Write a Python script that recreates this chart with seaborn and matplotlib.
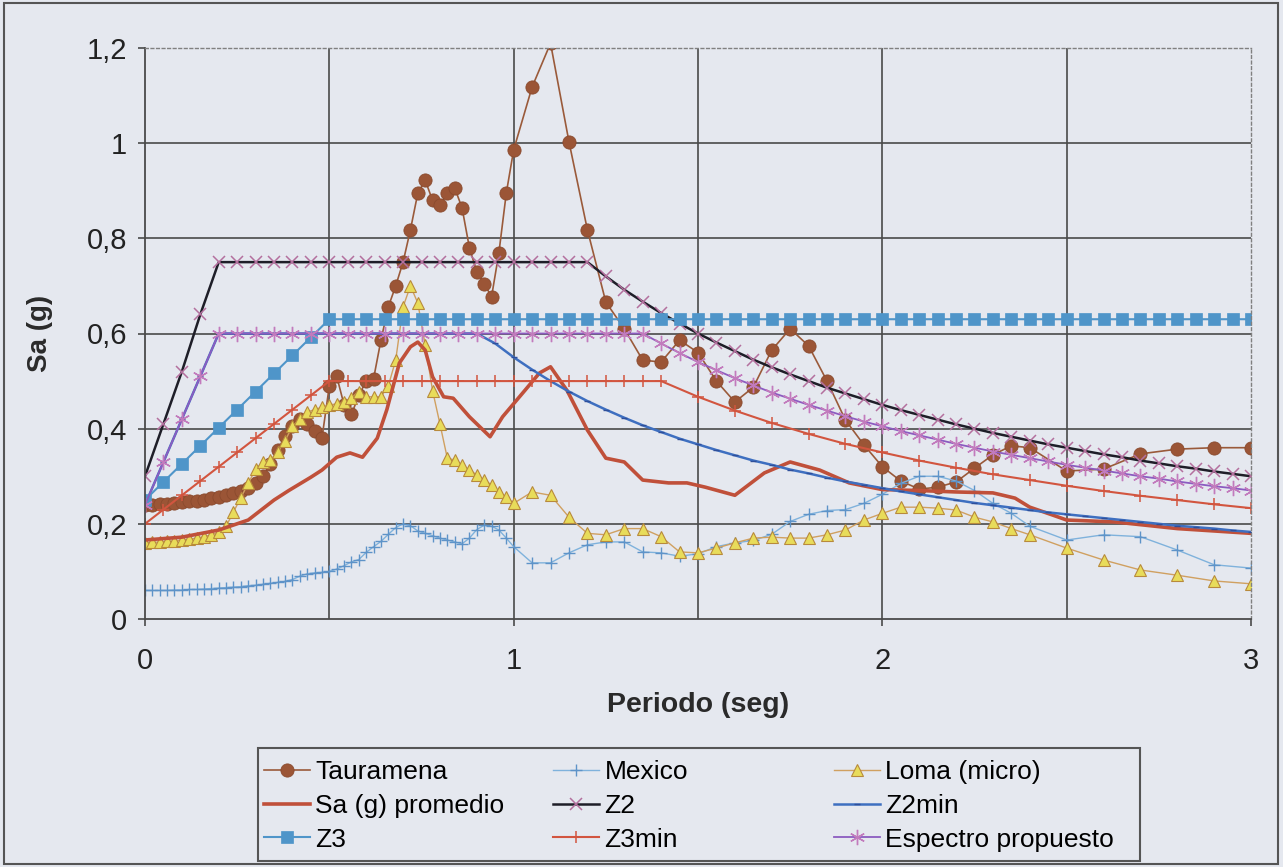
import numpy as np
import pandas as pd
import matplotlib
matplotlib.use('Agg')
import matplotlib.pyplot as plt
import seaborn as sns
from matplotlib.patches import Rectangle

# periods (s) of the three records
periodo_reg = [0.00, 0.02, 0.04, 0.06, 0.08, 0.10, 0.12, 0.14, 0.16, 0.18,
               0.20, 0.22, 0.24, 0.26, 0.28, 0.30, 0.32, 0.34, 0.36, 0.38,
               0.40, 0.42, 0.44, 0.46, 0.48, 0.50, 0.52, 0.54, 0.56, 0.58,
               0.60, 0.62, 0.64, 0.66, 0.68, 0.70, 0.72, 0.74, 0.76, 0.78,
               0.80, 0.82, 0.84, 0.86, 0.88, 0.90, 0.92, 0.94, 0.96, 0.98,
               1.00, 1.05, 1.10, 1.15, 1.20, 1.25, 1.30, 1.35, 1.40, 1.45,
               1.50, 1.55, 1.60, 1.65, 1.70, 1.75, 1.80, 1.85, 1.90, 1.95,
               2.00, 2.05, 2.10, 2.15, 2.20, 2.25, 2.30, 2.35, 2.40, 2.50,
               2.60, 2.70, 2.80, 2.90, 3.00]

tauramena = [0.240, 0.240, 0.241, 0.242, 0.243, 0.245, 0.247, 0.249, 0.251, 0.254,
             0.256, 0.260, 0.264, 0.268, 0.275, 0.285, 0.300, 0.325, 0.355, 0.385,
             0.405, 0.420, 0.410, 0.395, 0.380, 0.490, 0.510, 0.450, 0.430, 0.470,
             0.500, 0.505, 0.586, 0.656, 0.700, 0.750, 0.818, 0.895, 0.922, 0.880,
             0.870, 0.895, 0.906, 0.864, 0.780, 0.730, 0.705, 0.677, 0.770, 0.895,
             0.986, 1.118, 1.210, 1.003, 0.818, 0.666, 0.610, 0.544, 0.540, 0.586,
             0.560, 0.500, 0.456, 0.487, 0.565, 0.610, 0.574, 0.500, 0.418, 0.366,
             0.320, 0.290, 0.273, 0.277, 0.288, 0.317, 0.345, 0.364, 0.360, 0.311,
             0.315, 0.347, 0.357, 0.360, 0.360]

mexico = [0.060, 0.060, 0.060, 0.060, 0.061, 0.061, 0.062, 0.062, 0.063, 0.064,
          0.065, 0.066, 0.067, 0.068, 0.070, 0.071, 0.073, 0.075, 0.077, 0.079,
          0.083, 0.090, 0.095, 0.097, 0.098, 0.100, 0.105, 0.112, 0.120, 0.125,
          0.140, 0.152, 0.163, 0.178, 0.192, 0.200, 0.196, 0.185, 0.180, 0.175,
          0.170, 0.166, 0.162, 0.158, 0.170, 0.188, 0.197, 0.195, 0.187, 0.170,
          0.152, 0.118, 0.118, 0.139, 0.156, 0.162, 0.162, 0.141, 0.139, 0.132,
          0.137, 0.152, 0.160, 0.165, 0.178, 0.205, 0.220, 0.228, 0.230, 0.243,
          0.262, 0.285, 0.300, 0.300, 0.290, 0.270, 0.243, 0.222, 0.195, 0.166,
          0.177, 0.173, 0.145, 0.114, 0.107]

loma = [0.160, 0.161, 0.162, 0.163, 0.164, 0.166, 0.168, 0.170, 0.173, 0.177,
        0.183, 0.195, 0.225, 0.255, 0.285, 0.315, 0.330, 0.335, 0.350, 0.375,
        0.405, 0.420, 0.435, 0.440, 0.445, 0.450, 0.452, 0.455, 0.465, 0.478,
        0.467, 0.467, 0.467, 0.490, 0.544, 0.656, 0.700, 0.664, 0.576, 0.480,
        0.410, 0.338, 0.334, 0.324, 0.313, 0.303, 0.292, 0.282, 0.267, 0.256,
        0.243, 0.267, 0.260, 0.214, 0.180, 0.177, 0.190, 0.190, 0.173, 0.141,
        0.139, 0.149, 0.160, 0.170, 0.172, 0.170, 0.170, 0.177, 0.187, 0.208,
        0.222, 0.235, 0.235, 0.233, 0.229, 0.214, 0.204, 0.190, 0.177, 0.149,
        0.124, 0.103, 0.092, 0.080, 0.074]

# average spectrum
periodo_prom = [0.00, 0.10, 0.20, 0.28, 0.35, 0.39, 0.45, 0.48, 0.52, 0.556,
                0.59, 0.63, 0.656, 0.69, 0.72, 0.74, 0.76, 0.78, 0.81, 0.836,
                0.88, 0.936, 0.97, 1.03, 1.07, 1.10, 1.145, 1.20, 1.25, 1.30,
                1.35, 1.42, 1.47, 1.52, 1.60, 1.68, 1.75, 1.83, 1.91, 2.00,
                2.10, 2.20, 2.30, 2.36, 2.40, 2.46, 2.50, 2.63, 2.80, 3.00]
sa_promedio = [0.166, 0.172, 0.187, 0.208, 0.250, 0.270, 0.298, 0.313, 0.340, 0.349,
               0.340, 0.380, 0.440, 0.538, 0.572, 0.582, 0.565, 0.509, 0.467, 0.464,
               0.425, 0.383, 0.425, 0.480, 0.517, 0.530, 0.480, 0.397, 0.338, 0.330,
               0.292, 0.286, 0.286, 0.277, 0.260, 0.307, 0.330, 0.313, 0.286, 0.272,
               0.270, 0.267, 0.265, 0.254, 0.235, 0.219, 0.208, 0.204, 0.190, 0.180]

# design spectra, every 0.05 s
periodo_z = [0.00, 0.05, 0.10, 0.15, 0.20, 0.25, 0.30, 0.35, 0.40, 0.45,
             0.50, 0.55, 0.60, 0.65, 0.70, 0.75, 0.80, 0.85, 0.90, 0.95,
             1.00, 1.05, 1.10, 1.15, 1.20, 1.25, 1.30, 1.35, 1.40, 1.45,
             1.50, 1.55, 1.60, 1.65, 1.70, 1.75, 1.80, 1.85, 1.90, 1.95,
             2.00, 2.05, 2.10, 2.15, 2.20, 2.25, 2.30, 2.35, 2.40, 2.45,
             2.50, 2.55, 2.60, 2.65, 2.70, 2.75, 2.80, 2.85, 2.90, 2.95,
             3.00]

z2 = [0.30, 0.41, 0.52, 0.64, 0.75, 0.75, 0.75, 0.75, 0.75, 0.75,
      0.75, 0.75, 0.75, 0.75, 0.75, 0.75, 0.75, 0.75, 0.75, 0.75,
      0.75, 0.75, 0.75, 0.75, 0.75, 0.720, 0.692, 0.667, 0.643, 0.621,
      0.600, 0.581, 0.563, 0.545, 0.529, 0.514, 0.500, 0.486, 0.474, 0.462,
      0.450, 0.439, 0.429, 0.419, 0.409, 0.400, 0.391, 0.383, 0.375, 0.367,
      0.360, 0.353, 0.346, 0.340, 0.333, 0.327, 0.321, 0.316, 0.310, 0.305,
      0.300]

z2min = [0.24, 0.33, 0.42, 0.51, 0.60, 0.60, 0.60, 0.60, 0.60, 0.60,
         0.60, 0.60, 0.60, 0.60, 0.60, 0.60, 0.60, 0.60, 0.60, 0.579,
         0.550, 0.524, 0.500, 0.478, 0.458, 0.440, 0.423, 0.407, 0.393, 0.379,
         0.367, 0.355, 0.344, 0.333, 0.324, 0.314, 0.306, 0.297, 0.289, 0.282,
         0.275, 0.268, 0.262, 0.256, 0.250, 0.244, 0.239, 0.234, 0.229, 0.224,
         0.220, 0.216, 0.212, 0.208, 0.204, 0.200, 0.196, 0.193, 0.190, 0.186,
         0.183]

z3 = [0.250, 0.288, 0.326, 0.364, 0.402, 0.440, 0.478, 0.516, 0.554, 0.592,
      0.63, 0.63, 0.63, 0.63, 0.63, 0.63, 0.63, 0.63, 0.63, 0.63,
      0.63, 0.63, 0.63, 0.63, 0.63, 0.63, 0.63, 0.63, 0.63, 0.63,
      0.63, 0.63, 0.63, 0.63, 0.63, 0.63, 0.63, 0.63, 0.63, 0.63,
      0.63, 0.63, 0.63, 0.63, 0.63, 0.63, 0.63, 0.63, 0.63, 0.63,
      0.63, 0.63, 0.63, 0.63, 0.63, 0.63, 0.63, 0.63, 0.63, 0.63,
      0.63]

espectro = [0.24, 0.33, 0.42, 0.51, 0.60, 0.60, 0.60, 0.60, 0.60, 0.60,
            0.60, 0.60, 0.60, 0.60, 0.60, 0.60, 0.60, 0.60, 0.60, 0.60,
            0.60, 0.60, 0.60, 0.60, 0.60, 0.60, 0.60, 0.60, 0.579, 0.559,
            0.540, 0.523, 0.506, 0.491, 0.476, 0.463, 0.450, 0.438, 0.426, 0.415,
            0.405, 0.395, 0.386, 0.377, 0.368, 0.360, 0.352, 0.345, 0.338, 0.331,
            0.324, 0.318, 0.312, 0.306, 0.300, 0.295, 0.289, 0.284, 0.279, 0.275,
            0.270]

periodo_z3min = [0.00, 0.05, 0.10, 0.15, 0.20, 0.25, 0.30, 0.35, 0.40, 0.45,
                 0.50, 0.55, 0.60, 0.65, 0.70, 0.75, 0.80, 0.85, 0.90, 0.95,
                 1.00, 1.05, 1.10, 1.15, 1.20, 1.25, 1.30, 1.35, 1.40, 1.50,
                 1.60, 1.70, 1.80, 1.90, 2.00, 2.10, 2.20, 2.30, 2.40, 2.50,
                 2.60, 2.70, 2.80, 2.90, 3.00]
z3min = [0.20, 0.23, 0.26, 0.29, 0.32, 0.35, 0.38, 0.41, 0.44, 0.47,
         0.50, 0.50, 0.50, 0.50, 0.50, 0.50, 0.50, 0.50, 0.50, 0.50,
         0.50, 0.50, 0.50, 0.50, 0.50, 0.50, 0.50, 0.50, 0.50, 0.467,
         0.438, 0.412, 0.389, 0.368, 0.350, 0.333, 0.318, 0.304, 0.292, 0.280,
         0.269, 0.259, 0.250, 0.241, 0.233]

bg = '#e5e8ef'
grid_col = '#4a4a4a'

plt.rcParams['font.family'] = ['Liberation Sans', 'DejaVu Sans']

fig = plt.figure(figsize=(12.83, 8.67), dpi=100, facecolor=bg)
ax = fig.add_axes([145 / 1283, 1 - 619 / 867, 1106 / 1283, 571 / 867])
ax.set_facecolor(bg)

handles = {}


def draw(x, y, label, **kw):
    sns.lineplot(x=x, y=y, ax=ax, estimator=None, sort=False, legend=False, **kw)
    handles[label] = ax.lines[-1]


draw(periodo_reg, tauramena, 'Tauramena', color='#9a5a3a', linewidth=1.2,
     marker='o', markersize=9.5, markerfacecolor='#9b5536', markeredgecolor='#8a4a2e',
     markeredgewidth=0.6)
draw(periodo_reg, mexico, 'Mexico', color='#7fb2dc', linewidth=1.0,
     marker='+', markersize=8, markeredgecolor='#5e93c8', markeredgewidth=1.0)
draw(periodo_reg, loma, 'Loma (micro)', color='#d0a060', linewidth=1.0,
     marker='^', markersize=9, markerfacecolor='#e8dc5a', markeredgecolor='#b88a3c',
     markeredgewidth=0.8)
draw(periodo_prom, sa_promedio, 'Sa (g) promedio', color='#c0503a', linewidth=2.6)
draw(periodo_z, z2, 'Z2', color='#1e1e28', linewidth=1.8,
     marker='x', markersize=8, markeredgecolor='#b4709e', markeredgewidth=1.1)
draw(periodo_z, z2min, 'Z2min', color='#3e6fc0', linewidth=1.8,
     marker='_', markersize=5, markeredgecolor='#2f4f9a', markeredgewidth=1.0)
draw(periodo_z, z3, 'Z3', color='#4f95c9', linewidth=1.5,
     marker='s', markersize=8.5, markerfacecolor='#4f95c9', markeredgecolor='#4f95c9',
     markeredgewidth=0.5)
draw(periodo_z3min, z3min, 'Z3min', color='#d2553f', linewidth=1.5,
     marker='+', markersize=9, markeredgecolor='#d2553f', markeredgewidth=1.1)
draw(periodo_z, espectro, 'Espectro propuesto', color='#8c5cc0', linewidth=1.3,
     marker=(6, 2, 0), markersize=11, markeredgecolor='#c27bbd', markeredgewidth=1.0)

ax.set_xlim(0, 3)
ax.set_ylim(0, 1.2)
ax.set_xticks([0, 1, 2, 3])
ax.set_xticklabels(['0', '1', '2', '3'])
ax.set_xticks([0.5, 1.5, 2.5], minor=True)
ax.set_yticks([0, 0.2, 0.4, 0.6, 0.8, 1.0, 1.2])
ax.set_yticklabels(['0', '0,2', '0,4', '0,6', '0,8', '1', '1,2'])
ax.tick_params(axis='x', which='major', labelsize=21, length=5, width=1.2,
               color=grid_col, pad=15, labelcolor='#222222')
ax.tick_params(axis='x', which='minor', length=0)
ax.tick_params(axis='y', labelsize=21, length=5, width=1.2, color=grid_col,
               pad=8, labelcolor='#222222')

# grid lines (Excel style)
for gx in [0.5, 1.0, 1.5, 2.0, 2.5]:
    ax.axvline(gx, color=grid_col, linewidth=1.2, zorder=0.5)
for gy in [0.2, 0.4, 0.6, 0.8, 1.0]:
    ax.axhline(gy, color=grid_col, linewidth=1.2, zorder=0.5)

for side in ['left', 'bottom']:
    ax.spines[side].set_color(grid_col)
    ax.spines[side].set_linewidth(1.3)
for side in ['top', 'right']:
    ax.spines[side].set_color('#808080')
    ax.spines[side].set_linewidth(1.0)
    ax.spines[side].set_linestyle((0, (2, 2)))

ax.set_xlabel('Periodo (seg)', fontsize=20.5, fontweight='bold', color='#2a2a2a')
ax.set_ylabel('Sa (g)', fontsize=20, fontweight='bold', color='#2a2a2a')
ax.xaxis.set_label_coords(0.5, -0.128)
ax.yaxis.set_label_coords(-0.083, 0.5)

# legend: three columns inside one frame
cols = [['Tauramena', 'Sa (g) promedio', 'Z3'],
        ['Mexico', 'Z2', 'Z3min'],
        ['Loma (micro)', 'Z2min', 'Espectro propuesto']]
col_x = [264 / 1283, 553 / 1283, 834 / 1283]
for names, cx in zip(cols, col_x):
    fig.legend([handles[n] for n in names], names, loc='upper left',
               bbox_to_anchor=(cx, 1 - 760 / 867), frameon=False, numpoints=1,
               handlelength=1.75, handletextpad=0.2,
               labelspacing=0.37, borderpad=0, borderaxespad=0,
               prop={'family': ['Liberation Sans'], 'size': 19})

fig.patches.append(Rectangle((258 / 1283, 1 - 861 / 867), 882 / 1283, 113 / 867,
                             transform=fig.transFigure, fill=False,
                             edgecolor='#555555', linewidth=1.5))
fig.patches.append(Rectangle((4 / 1283, 3 / 867), 1274 / 1283, 861 / 867,
                             transform=fig.transFigure, fill=False,
                             edgecolor='#555555', linewidth=1.5))

fig.savefig('out.png', dpi=100, facecolor=bg)
